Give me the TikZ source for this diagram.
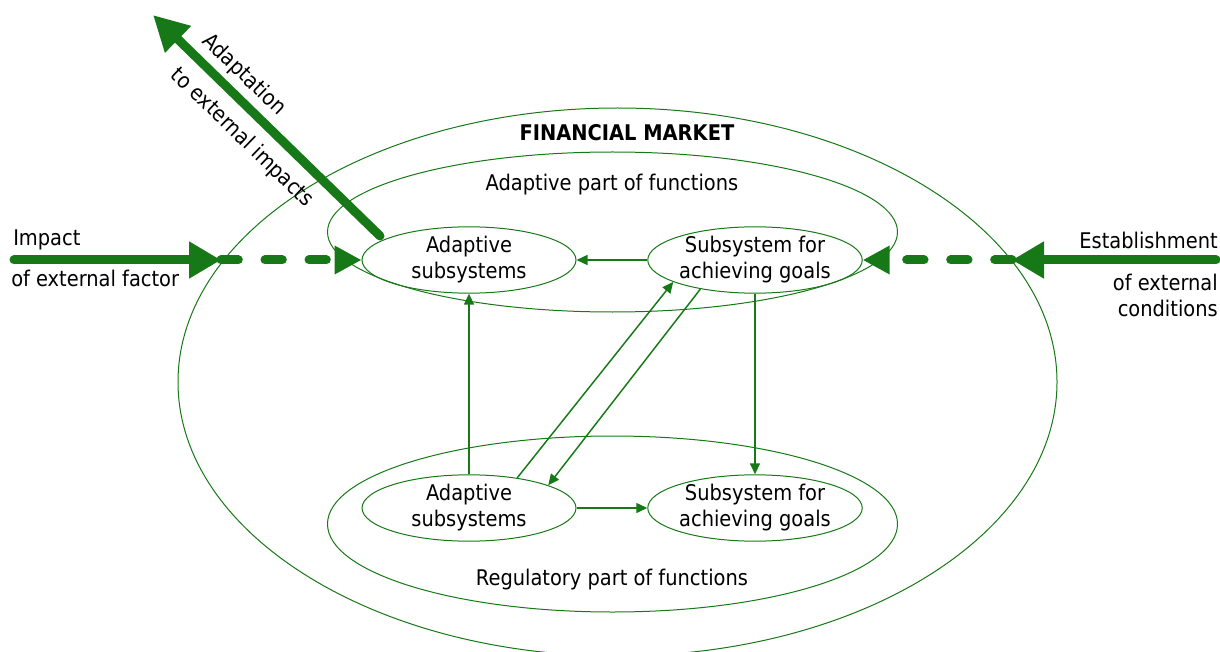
\documentclass[tikz,border=0pt]{standalone}
\usepackage{fontspec}
\setmainfont{DejaVu Sans Condensed}
\usetikzlibrary{arrows.meta,shapes.geometric}
\definecolor{mkgreen}{RGB}{22,120,22}

\begin{document}
\begin{tikzpicture}[x=0.75pt,y=-0.75pt,
  font=\fontsize{16.2}{19.5}\selectfont,
  ring/.style={draw=mkgreen, line width=0.75pt, ellipse, inner sep=0pt},
  sysbox/.style={ring, minimum width=160.5pt, minimum height=48pt, align=center},
  link/.style={draw=mkgreen, line width=1.1pt,
    -{Triangle[length=8.25pt,width=7.5pt]}},
  bigflow/.style={draw=mkgreen, line width=6.75pt, line cap=round,
    -{Triangle[length=24pt,width=26.25pt]}},
  dashflow/.style={draw=mkgreen, line width=6.75pt, line cap=round,
    dash pattern=on 13pt off 20pt,
    -{Triangle[length=20.25pt,width=20.25pt]}},
  lbl/.style={inner sep=0pt}
]
\useasboundingbox (0,0) rectangle (1220,652);
\clip (0,0) rectangle (1220,652);

% market and its two functional parts
\node[ring, minimum width=659.25pt, minimum height=411pt] (market) at (617.5,382) {};
\node[ring, minimum width=427.5pt, minimum height=120pt] (adpart) at (612.5,232) {};
\node[ring, minimum width=427.5pt, minimum height=132pt] (regpart) at (612.5,524) {};

\node[lbl, font=\fontsize{16.2}{19.5}\selectfont\bfseries] (title) at (627,133) {FINANCIAL MARKET};
\node[lbl] (adlabel) at (612,185) {Adaptive part of functions};
\node[lbl] (reglabel) at (612,580) {Regulatory part of functions};

% subsystems
\node[sysbox] (aU) at (469,260) {Adaptive\\subsystems};
\node[sysbox] (gU) at (755,260) {Subsystem for\\achieving goals};
\node[sysbox] (aL) at (469,508) {Adaptive\\subsystems};
\node[sysbox] (gL) at (755,508) {Subsystem for\\achieving goals};

% links between subsystems
\draw[link] (gU.west) -- (aU.east);
\draw[link] (aL.north) -- (aU.south);
\draw[link] (gU.south) -- (gL.north);
\draw[link] (aL.east) -- (gL.west);
\draw[link] (aL.32) -- (gU.195);
\draw[link] (gU.208) -- (aL.16);

% external flows
\coordinate (impstart) at (14,260);
\coordinate (impmid) at (221,260);
\draw[bigflow] (impstart) -- (impmid);
\draw[dashflow] (impmid) -- (aU.west);

\coordinate (eststart) at (1216,260);
\coordinate (estmid) at (1012,260);
\draw[bigflow] (eststart) -- (estmid);
\draw[dashflow] (estmid) -- (gU.east);

\coordinate (adstart) at (380,236);
\coordinate (adtip) at (153,15);
\draw[bigflow, -{Triangle[length=26.25pt,width=26.25pt]}] (adstart) -- (adtip);

% flow labels
\node[lbl, anchor=west] (imp1) at (13,240) {Impact};
\node[lbl, anchor=west] (imp2) at (11,278) {of external factor};
\node[lbl, anchor=east] (est1) at (1218,240) {Establishment};
\node[lbl, anchor=east] (est2) at (1218,282) {of external};
\node[lbl, anchor=east] (est3) at (1218,308) {conditions};
\node[lbl, rotate=-44] (ad1) at (244,75) {Adaptation};
\node[lbl, rotate=-44] (ad2) at (242,138) {to external impacts};
\end{tikzpicture}
\end{document}
